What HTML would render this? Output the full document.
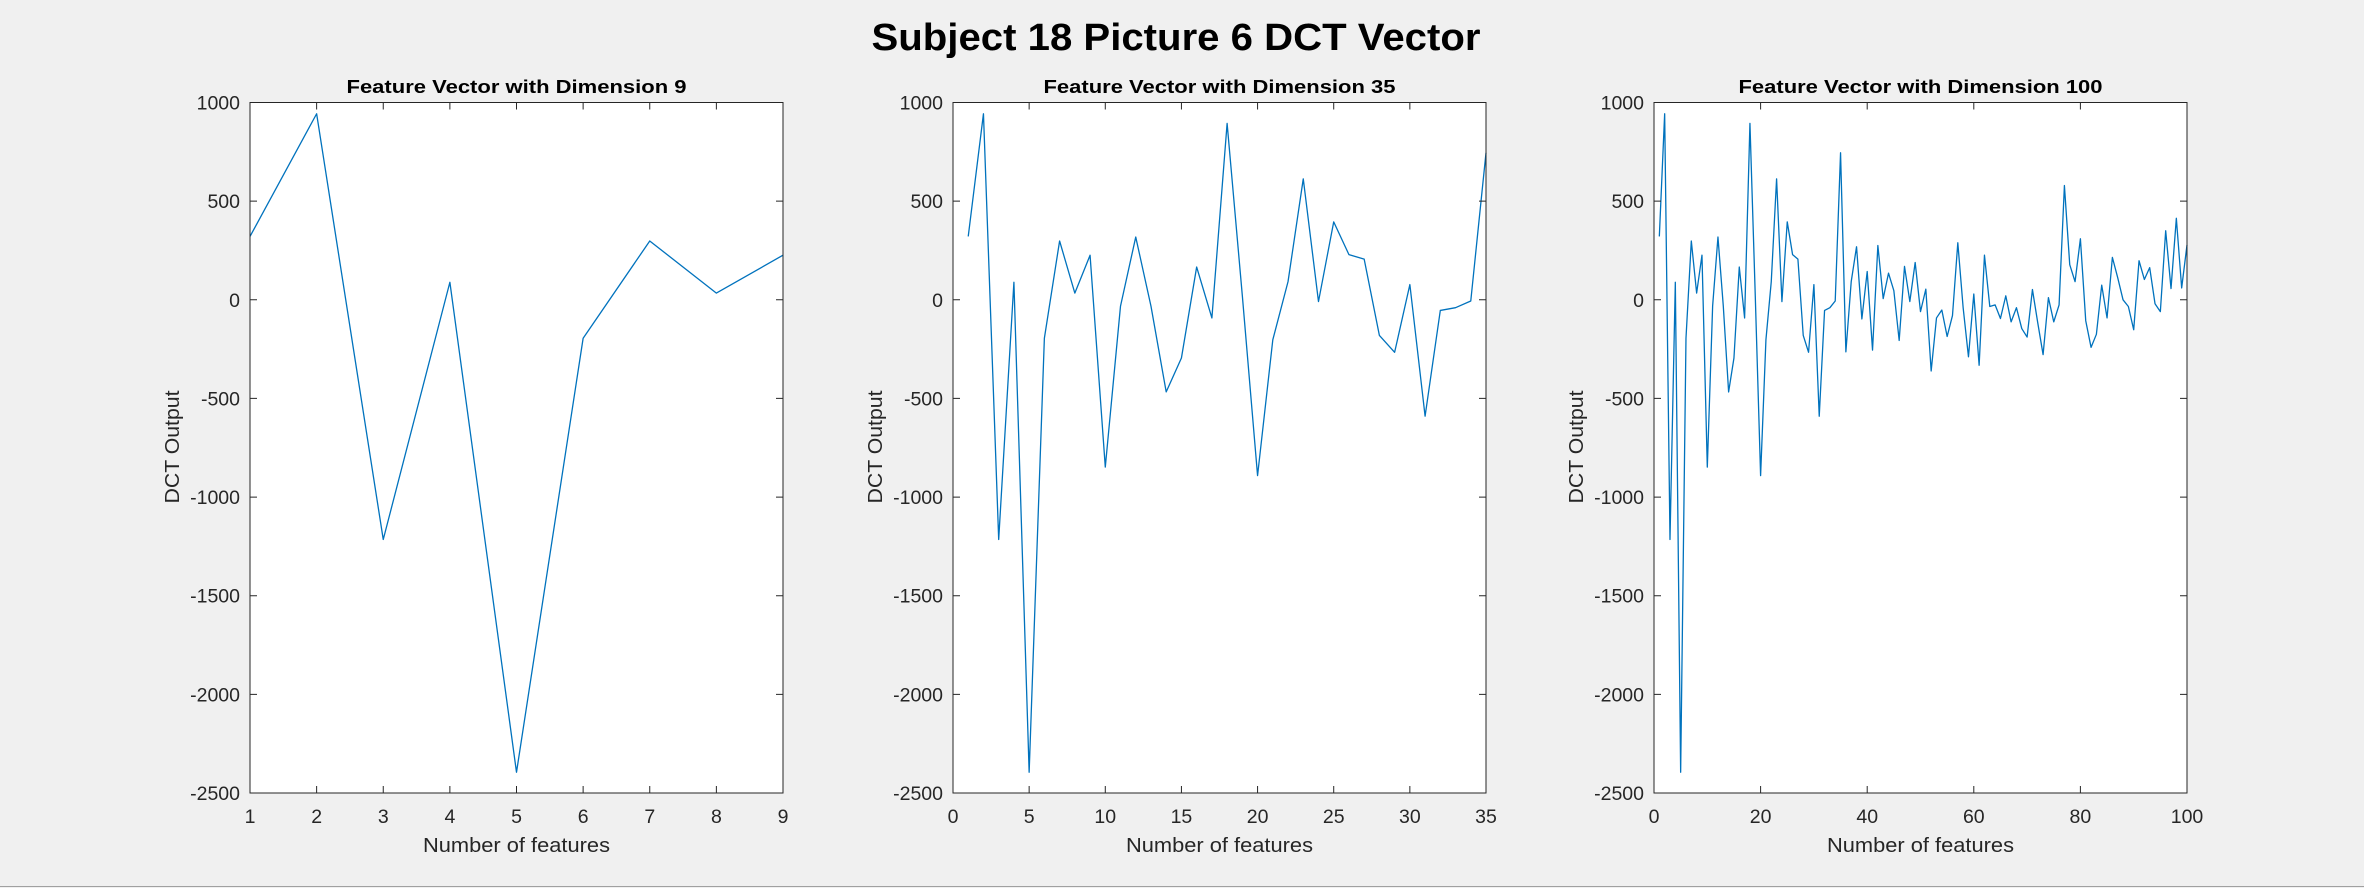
<!DOCTYPE html>
<html><head><meta charset="utf-8"><style>
html,body{margin:0;padding:0;background:#f0f0f0;}
svg{display:block;font-family:"Liberation Sans",Arial,sans-serif;}
</style></head><body>
<svg id="fig" width="2364" height="888" viewBox="0 0 2364 888" xmlns="http://www.w3.org/2000/svg">
<rect x="0" y="0" width="2364" height="888" fill="#f0f0f0"/>
<line x1="0" y1="886.5" x2="2364" y2="886.5" stroke="#a0a0a0" stroke-width="1"/>
<text x="1176" y="50" text-anchor="middle" font-size="38" font-weight="bold" textLength="609" lengthAdjust="spacingAndGlyphs" fill="#000">Subject 18 Picture 6 DCT Vector</text>
</svg>
<script>
const dctValues = [321,943,-1215,89,-2395,-195,298,34,226,-848,-32,318,-32,-467,-295,166,-92,894,20,-891,-203,92,613,-9,395,229,206,-181,-266,77,-590,-54,-40,-6,745,
-264,92,269,-97,143,-255,275,6,135,46,-206,169,-9,189,-60,54,-361,-92,-52,-186,-80,289,-40,-289,29,-332,226,-34,-26,-95,20,-112,-40,-146,-189,52,-117,-278,11,-112,-26,579,178,92,309,-106,-241,-175,74,-92,215,112,0,-34,-152,198,103,163,-20,-60,350,57,413,60,278];
const dimensions = [9,35,100];
const xMins = [1,0,0];
const xMaxs = [9,35,100];
const xTicks9 = [1,2,3,4,5,6,7,8,9];
const xTicks35 = [0,5,10,15,20,25,30,35];
const xTicks100 = [0,20,40,60,80,100];
const yTicks = [1000,500,0,-500,-1000,-1500,-2000,-2500];
const yMin = -2500, yMax = 1000;

const svg = document.getElementById('fig');
const NS = 'http://www.w3.org/2000/svg';
const axLefts = [250,953,1654];
const axW = 533, axTop = 102.5, axBot = 793;
const tickSets = [xTicks9, xTicks35, xTicks100];

function mk(tag, attrs, parent){
  const e = document.createElementNS(NS, tag);
  for (const k in attrs) e.setAttribute(k, attrs[k]);
  (parent||svg).appendChild(e);
  return e;
}

dimensions.forEach((dim, i) => {
  const L = axLefts[i], R = L + axW;
  const xs = v => L + (v - xMins[i]) / (xMaxs[i] - xMins[i]) * axW;
  const ys = v => axBot - (v - yMin) / (yMax - yMin) * (axBot - axTop);
  const g = mk('g', {});
  
  
  const bg = mk('rect', {x:L, y:axTop, width:axW, height:axBot-axTop, fill:'#fff'}, g);
  
  
  // line
  const pts = dctValues.slice(0, dim).map((v, k) => xs(k+1).toFixed(2) + ',' + ys(v).toFixed(2)).join(' ');
  const line = mk('polyline', {points:pts, fill:'none', stroke:'#0072BD', 'stroke-width':1.3, 'stroke-linejoin':'round'}, g);
  
  
  // ticks
  tickSets[i].forEach(t => {
    const x = xs(t);
    const tk = mk('path', {d:`M${x} ${axBot}v-7M${x} ${axTop}v7`, stroke:'#262626', 'stroke-width':1}, g);
    
    
    const tl = mk('text', {x:x, y:823, 'text-anchor':'middle', 'font-size':19.5, fill:'#262626'}, g);
    
    
    tl.textContent = t;
  });
  yTicks.forEach(t => {
    const y = ys(t);
    const tk = mk('path', {d:`M${L} ${y}h7M${R} ${y}h-7`, stroke:'#262626', 'stroke-width':1}, g);
    
    
    const tl = mk('text', {x:L-10, y:y+7, 'text-anchor':'end', 'font-size':19.5, fill:'#262626'}, g);
    
    
    tl.textContent = t;
  });
  const box = mk('rect', {x:L, y:axTop, width:axW, height:axBot-axTop, fill:'none', stroke:'#262626', 'stroke-width':1}, g);
  
  
  const st = mk('text', {x:L+axW/2, y:93, 'text-anchor':'middle', 'font-size':18, 'font-weight':'bold', fill:'#000', textLength:340, lengthAdjust:'spacingAndGlyphs'}, g);
  
  
  st.textContent = 'Feature Vector with Dimension ' + dim;
  if (dim === 100) st.setAttribute('textLength', 364);
  if (dim === 35) st.setAttribute('textLength', 352);
  const xl = mk('text', {x:L+axW/2, y:852, 'text-anchor':'middle', 'font-size':20.5, fill:'#262626', textLength:187, lengthAdjust:'spacingAndGlyphs'}, g);
  
  
  xl.textContent = 'Number of features';
  const yx = L - 71;
  const yl = mk('text', {x:yx, y:447, 'text-anchor':'middle', 'font-size':20.5, fill:'#262626', transform:`rotate(-90 ${yx} 447)`, textLength:113, lengthAdjust:'spacingAndGlyphs'}, g);
  
  
  yl.textContent = 'DCT Output';
});
</script>
</body></html>
